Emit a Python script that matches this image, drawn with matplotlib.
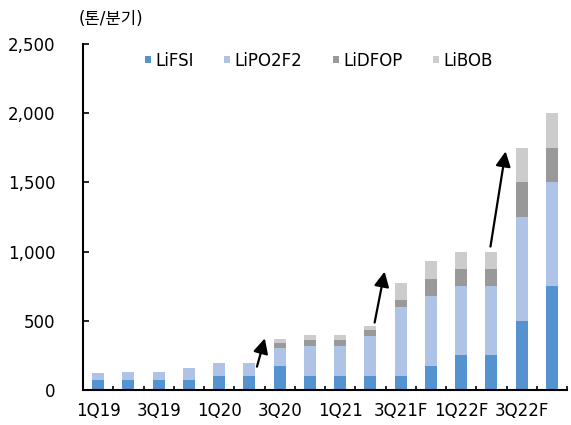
import matplotlib.pyplot as plt
import numpy as np

plt.rcParams['font.family'] = ['DejaVu Sans', 'Noto Sans CJK KR']

quarters = ["1Q19", "2Q19", "3Q19", "4Q19", "1Q20", "2Q20", "3Q20", "4Q20",
            "1Q21", "2Q21", "3Q21F", "4Q21F", "1Q22F", "2Q22F", "3Q22F", "4Q22F"]
lifsi = [70, 70, 70, 70, 100, 100, 175, 100, 100, 100, 100, 175, 250, 250, 500, 750]
lipo2f2 = [50, 60, 60, 90, 90, 90, 125, 220, 220, 290, 500, 500, 500, 500, 750, 750]
lidfop = [0, 0, 0, 0, 0, 0, 40, 40, 40, 40, 50, 125, 125, 125, 250, 250]
libob = [0, 0, 0, 0, 0, 0, 30, 35, 35, 30, 125, 130, 125, 125, 250, 250]

series = [("LiFSI", lifsi, "#5592d0"),
          ("LiPO2F2", lipo2f2, "#aec3e6"),
          ("LiDFOP", lidfop, "#999999"),
          ("LiBOB", libob, "#cccccc")]

# arrows: (tail, head) in data coords
arrows = [((5.25, 167), (5.51, 372)),
          ((9.14, 486), (9.47, 855)),
          ((12.97, 1036), (13.47, 1725))]

fig = plt.figure(figsize=(5.71, 4.25), dpi=100)
ax = fig.add_axes([0.1454, 0.083, 0.8476, 0.8128])

x = np.arange(len(quarters))
bottom = np.zeros(len(quarters))
for name, vals, col in series:
    ax.bar(x, vals, width=0.4, bottom=bottom, color=col, label=name, zorder=2)
    bottom += np.array(vals)

for tail, head in arrows:
    ax.annotate("", xy=head, xytext=tail,
                arrowprops=dict(arrowstyle="-|>,head_length=0.9,head_width=0.45",
                                color="black", lw=1.6, shrinkA=0, shrinkB=0))

ax.set_xlim(-0.5, 15.5)
ax.set_ylim(0, 2500)
ax.set_yticks(range(0, 2501, 500))
ax.set_yticklabels([f"{v:,}" for v in range(0, 2501, 500)])
ax.set_xticks(x[::2])
ax.set_xticklabels(quarters[::2])
ax.set_xticks(np.arange(-0.5, 16, 0.5), minor=True)

for s in ["top", "right"]:
    ax.spines[s].set_visible(False)
ax.spines["left"].set_linewidth(1.5)
ax.spines["bottom"].set_linewidth(1.5)
ax.tick_params(axis="y", direction="in", length=4, width=1.2, labelsize=12, pad=20)
ax.tick_params(axis="x", which="both", direction="in", length=3, width=1.2,
               labelsize=12, pad=9)
ax.tick_params(axis="x", which="minor", labelbottom=False)

ax.legend(loc="center left", bbox_to_anchor=(0.128, 0.953), ncol=4, frameon=False,
          borderpad=0, borderaxespad=0,
          handlelength=0.34, handleheight=0.34, handletextpad=0.26, columnspacing=1.85,
          fontsize=12)

fig.text(0.137, 0.955, "(톤/분기)", fontsize=12, ha="left", va="center")

fig.savefig("out.png", dpi=100)
